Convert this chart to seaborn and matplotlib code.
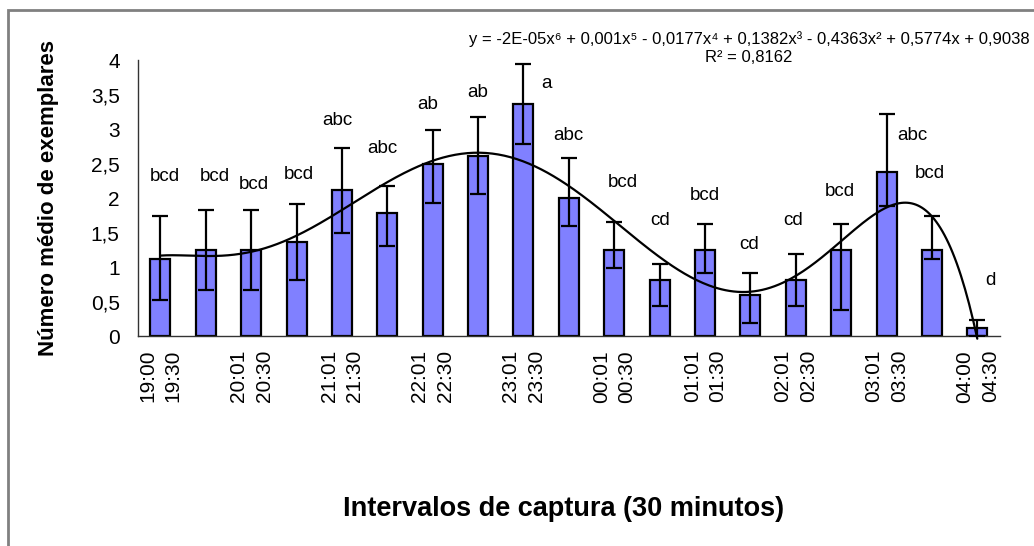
import numpy as np
import pandas as pd
import matplotlib
matplotlib.use("Agg")
import matplotlib.pyplot as plt
import seaborn as sns
from matplotlib.patches import Rectangle
from matplotlib.ticker import FuncFormatter

# Capture intervals (30 min each)
intervals = [
    "19:00\n19:30", "19:31\n20:00", "20:01\n20:30", "20:31\n21:00",
    "21:01\n21:30", "21:31\n22:00", "22:01\n22:30", "22:31\n23:00",
    "23:01\n23:30", "23:31\n00:00", "00:01\n00:30", "00:31\n01:00",
    "01:01\n01:30", "01:31\n02:00", "02:01\n02:30", "02:31\n03:00",
    "03:01\n03:30", "03:31\n04:00", "04:00\n04:30",
]
# Mean number of specimens per interval
means = [1.12, 1.24, 1.24, 1.36, 2.11, 1.78, 2.49, 2.61, 3.36, 2.00,
         1.24, 0.81, 1.24, 0.60, 0.81, 1.24, 2.37, 1.24, 0.11]
# Error bar extents below / above each mean
err_low = [0.60, 0.58, 0.58, 0.55, 0.61, 0.48, 0.56, 0.55, 0.58, 0.41,
           0.26, 0.38, 0.32, 0.41, 0.38, 0.87, 0.48, 0.12, 0.11]
err_high = [0.62, 0.58, 0.58, 0.55, 0.61, 0.40, 0.49, 0.57, 0.58, 0.58,
            0.41, 0.23, 0.38, 0.32, 0.38, 0.38, 0.85, 0.50, 0.12]
# Significance letters
letters = ["bcd", "bcd", "bcd", "bcd", "abc", "abc", "ab", "ab", "a", "abc",
           "bcd", "cd", "bcd", "cd", "cd", "bcd", "abc", "bcd", "d"]
letter_y = [2.31, 2.31, 2.19, 2.34, 3.12, 2.72, 3.35, 3.53, 3.66, 2.91,
            2.23, 1.68, 2.03, 1.33, 1.68, 2.09, 2.90, 2.35, 0.81]
letter_dx = [0.1, 0.2, 0.05, 0.05, -0.1, -0.1, -0.12, 0.0, 0.5, 0.0,
             0.18, 0.02, 0.0, -0.03, -0.05, -0.03, 0.58, -0.05, 0.28]

equation = ("y = -2E-05x\u2076 + 0,001x\u2075 - 0,0177x\u2074 + 0,1382x\u00b3"
            " - 0,4363x\u00b2 + 0,5774x + 0,9038\nR\u00b2 = 0,8162")

sns.set_theme(style="white")
plt.rcParams["font.family"] = ["Liberation Sans", "DejaVu Sans"]
plt.rcParams["text.color"] = "black"
plt.rcParams["axes.labelcolor"] = "black"
plt.rcParams["xtick.color"] = "black"
plt.rcParams["ytick.color"] = "black"

df = pd.DataFrame({"intervalo": intervals, "media": means})

fig = plt.figure(figsize=(10.34, 5.46), dpi=100)
ax = fig.add_axes([0.1332, 0.3846, 0.9671 - 0.1332, 0.8901 - 0.3846])

sns.barplot(data=df, x="intervalo", y="media", color="#8080FF",
            saturation=1, edgecolor="black", linewidth=1.6, width=0.44,
            ax=ax)

pos = np.arange(len(means))
ax.errorbar(pos, means, yerr=[err_low, err_high], fmt="none",
            ecolor="black", elinewidth=1.6, capsize=6, capthick=1.6,
            zorder=4)

# 6th-order polynomial trend line over category positions 1..n
xn = pos + 1
coef = np.polyfit(xn, means, 6)
xs = np.linspace(1, len(means), 400)
ax.plot(xs - 1, np.polyval(coef, xs), color="black", lw=1.6, zorder=5,
        clip_on=False)

for i, (lab, yy, dx) in enumerate(zip(letters, letter_y, letter_dx)):
    ax.text(i + dx, yy, lab, ha="center", va="center", fontsize=13.5,
            color="black")

ax.set_xlim(-0.5, len(means) - 0.5)
ax.set_ylim(0, 4)
ax.set_yticks(np.arange(0, 4.01, 0.5))
ax.yaxis.set_major_formatter(
    FuncFormatter(lambda v, p: f"{v:g}".replace(".", ",")))

ax.set_xticks(np.arange(-0.5, len(means), 1.0))
ax.set_xticklabels([])
ax.set_xticks(pos[::2], minor=True)
ax.set_xticklabels([intervals[i] for i in pos[::2]], minor=True,
                   rotation=90, fontsize=15, linespacing=1.45,
                   ha="center", va="top")

ax.tick_params(axis="both", which="major", direction="inout", length=10,
               width=1, color="#333333")
ax.tick_params(axis="x", which="minor", length=0, pad=10)
ax.tick_params(axis="y", which="major", labelsize=15, pad=8)

for s in ["top", "right"]:
    ax.spines[s].set_visible(False)
for s in ["left", "bottom"]:
    ax.spines[s].set_color("#333333")
    ax.spines[s].set_linewidth(1)

ax.set_xlabel("")
ax.set_ylabel("")
fig.text(0.545, 0.068, "Intervalos de captura (30 minutos)", ha="center",
         va="center", fontsize=19.5, fontweight="bold")
fig.text(0.047, 0.638, "Número médio de exemplares", ha="center",
         va="center", rotation=90, fontsize=16, fontweight="bold")

fig.text(749 / 1034, 1 - 48 / 546, equation, ha="center", va="center",
         fontsize=12, linespacing=1.2, multialignment="center")

fig.patches.append(Rectangle((8 / 1034, -0.1), 1.2, 1.1 - 10 / 546,
                             transform=fig.transFigure, fill=False,
                             edgecolor="#808080", lw=2))

fig.savefig("out.png", dpi=100)
